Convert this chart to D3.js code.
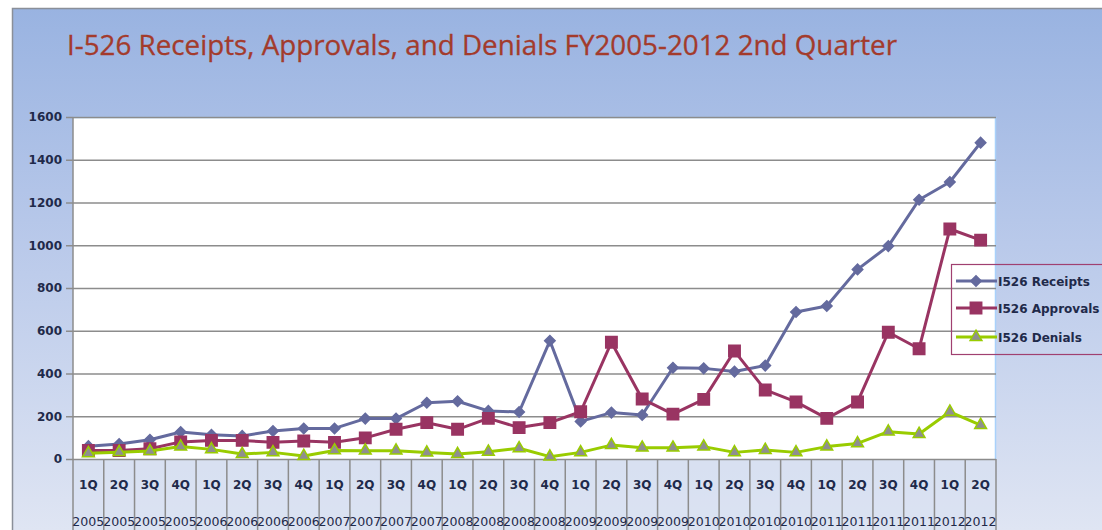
<!DOCTYPE html>
<html>
<head>
<meta charset="utf-8">
<script src="https://cdn.jsdelivr.net/npm/d3@7"></script>
<style>
  body { margin: 0; background: #fff; }
  svg { display: block; font-family: "DejaVu Sans", sans-serif; }
</style>
</head>
<body>
<div id="chart"></div>
<script>
// quarters and fiscal years on the category axis
const quarters = ["1Q","2Q","3Q","4Q","1Q","2Q","3Q","4Q","1Q","2Q","3Q","4Q","1Q","2Q","3Q","4Q",
                  "1Q","2Q","3Q","4Q","1Q","2Q","3Q","4Q","1Q","2Q","3Q","4Q","1Q","2Q"];
const years = ["2005","2005","2005","2005","2006","2006","2006","2006","2007","2007","2007","2007",
               "2008","2008","2008","2008","2009","2009","2009","2009","2010","2010","2010","2010",
               "2011","2011","2011","2011","2012","2012"];

const receipts = [60, 70, 90, 126, 113, 108, 131, 143, 143, 189, 189, 263, 270, 225, 220, 553,
                  176, 217, 206, 427, 424, 409, 437, 688, 716, 887, 996, 1213, 1296, 1480];
const approvals = [40, 40, 48, 80, 87, 87, 78, 84, 78, 99, 139, 170, 139, 190, 147, 170,
                   221, 546, 281, 210, 279, 505, 323, 267, 190, 267, 593, 516, 1076, 1024];
const denials = [27, 32, 37, 58, 45, 23, 31, 14, 40, 39, 39, 30, 23, 34, 50, 11,
                 31, 65, 53, 53, 58, 31, 42, 31, 58, 73, 128, 117, 221, 159];

const yTicks = [0, 200, 400, 600, 800, 1000, 1200, 1400, 1600];
const seriesNames = ["I526 Receipts", "I526 Approvals", "I526 Denials"];

const W = 1102, H = 530;
const plot = { left: 73, right: 996, top: 117, bottom: 459 };

const svg = d3.select("#chart").append("svg")
    .attr("width", W)
    .attr("height", H);

// background gradient
const defs = svg.append("defs");
const grad = defs.append("linearGradient")
    .attr("id", "bg")
    .attr("x1", 0).attr("y1", 0).attr("x2", 0).attr("y2", 1);
grad.append("stop").attr("offset", "0%").attr("stop-color", "#99b3e1");
grad.append("stop").attr("offset", "45%").attr("stop-color", "#b9c9ea");
grad.append("stop").attr("offset", "100%").attr("stop-color", "#dfe5f3");

svg.append("rect")
    .attr("x", 12).attr("y", 8)
    .attr("width", W - 12).attr("height", H - 8)
    .attr("fill", "url(#bg)");
svg.append("path")
    .attr("d", `M12.5,${H} V8.5 H${W}`)
    .attr("fill", "none")
    .attr("stroke", "#8a8f99")
    .attr("stroke-width", 1.5);

// title
svg.append("text")
    .attr("x", 67)
    .attr("y", 55)
    .attr("font-family", "'Open Sans', sans-serif")
    .attr("font-size", 27)
    .attr("fill", "#a33b2c")
    .attr("stroke", "#a33b2c")
    .attr("stroke-width", 0.3)
    .attr("textLength", 830)
    .attr("lengthAdjust", "spacingAndGlyphs")
    .text("I-526 Receipts, Approvals, and Denials FY2005-2012 2nd Quarter");

const x = d3.scaleBand()
    .domain(d3.range(quarters.length))
    .range([plot.left, plot.right]);

const y = d3.scaleLinear()
    .domain([0, 1600])
    .range([plot.bottom, plot.top]);

// plot area
svg.append("rect")
    .attr("x", plot.left).attr("y", plot.top)
    .attr("width", plot.right - plot.left)
    .attr("height", plot.bottom - plot.top)
    .attr("fill", "#fff");
svg.append("path")
    .attr("d", `M${plot.left},${plot.top + 0.5} H${plot.right - 0.5} V${plot.bottom}`)
    .attr("fill", "none")
    .attr("stroke", "#a9d1fb")
    .attr("stroke-width", 1.5);

// category table under the plot
svg.append("rect")
    .attr("x", plot.left).attr("y", plot.bottom)
    .attr("width", plot.right - plot.left)
    .attr("height", H - plot.bottom)
    .attr("fill", "#d9e1f2")
    .attr("opacity", 0.6);

svg.append("g")
    .selectAll("line")
    .data(d3.range(quarters.length + 1))
    .join("line")
    .attr("x1", i => i < quarters.length ? x(i) : x.range()[1])
    .attr("x2", i => i < quarters.length ? x(i) : x.range()[1])
    .attr("y1", plot.bottom)
    .attr("y2", H)
    .attr("stroke", "#8c8c8c")
    .attr("stroke-width", 1.5);

svg.append("g")
    .selectAll("text")
    .data(quarters)
    .join("text")
    .attr("x", (d, i) => x(i) + x.bandwidth() / 2)
    .attr("y", 489)
    .attr("text-anchor", "middle")
    .attr("font-size", 12)
    .attr("font-weight", "bold")
    .attr("fill", "#1f2a4a")
    .text(d => d);

svg.append("g")
    .selectAll("text")
    .data(years)
    .join("text")
    .attr("x", (d, i) => x(i) + x.bandwidth() / 2)
    .attr("y", 526)
    .attr("text-anchor", "middle")
    .attr("font-size", 12.5)
    .attr("fill", "#1f2a4a")
    .attr("textLength", 32)
    .attr("lengthAdjust", "spacingAndGlyphs")
    .text(d => d);

// y axis with gridlines
const yAxis = svg.append("g")
    .attr("transform", `translate(${plot.left},0)`)
    .call(d3.axisLeft(y).tickValues(yTicks).tickSize(-(plot.right - plot.left)).tickPadding(11).tickFormat(d3.format("d")));
yAxis.select(".domain").remove();
yAxis.selectAll(".tick line")
    .attr("x1", -7)
    .attr("stroke", "#8c8c8c")
    .attr("stroke-width", 1.5);
yAxis.selectAll(".tick text")
    .attr("font-size", 12)
    .attr("font-weight", "bold")
    .attr("font-family", "'DejaVu Sans', sans-serif")
    .attr("fill", "#1f2a4a");

svg.append("line")
    .attr("x1", plot.left).attr("x2", plot.left)
    .attr("y1", plot.top).attr("y2", plot.bottom)
    .attr("stroke", "#8c8c8c")
    .attr("stroke-width", 1.5);

// series
const cx = i => x(i) + x.bandwidth() / 2;
const line = d3.line().x((d, i) => cx(i)).y(d => y(d));

const series = [
    { values: receipts, color: "#646a9e", marker: d3.symbolSquare, size: 55, rotate: 45, fill: "#646a9e", stroke: "#646a9e" },
    { values: approvals, color: "#993462", marker: d3.symbolSquare, size: 130, rotate: 0, fill: "#993462", stroke: "#993462" },
    { values: denials, color: "#99cc00", marker: d3.symbolTriangle, size: 60, rotate: 0, fill: "#8f8f8f", stroke: "#99cc00" }
];

series.forEach(s => {
    svg.append("path")
        .datum(s.values)
        .attr("fill", "none")
        .attr("stroke", s.color)
        .attr("stroke-width", 3)
        .attr("stroke-linejoin", "round")
        .attr("d", line);
    svg.append("g")
        .selectAll("path")
        .data(s.values)
        .join("path")
        .attr("transform", (d, i) => `translate(${cx(i)},${y(d)}) rotate(${s.rotate})`)
        .attr("d", d3.symbol().type(s.marker).size(s.size))
        .attr("fill", s.fill)
        .attr("stroke", s.stroke)
        .attr("stroke-width", 1.5);
});

// legend
const legend = svg.append("g");
legend.append("rect")
    .attr("x", 951.5).attr("y", 264.5)
    .attr("width", 160).attr("height", 90)
    .attr("fill", "none")
    .attr("stroke", "#a04070")
    .attr("stroke-width", 1.2);

const legendY = [281, 308, 337];
series.forEach((s, i) => {
    legend.append("line")
        .attr("x1", 956).attr("x2", 997)
        .attr("y1", legendY[i]).attr("y2", legendY[i])
        .attr("stroke", s.color)
        .attr("stroke-width", 3);
    legend.append("path")
        .attr("transform", `translate(976,${legendY[i]}) rotate(${s.rotate})`)
        .attr("d", d3.symbol().type(s.marker).size(s.size))
        .attr("fill", s.fill)
        .attr("stroke", s.stroke)
        .attr("stroke-width", 1.5);
    legend.append("text")
        .attr("x", 998)
        .attr("y", legendY[i] + 4.5)
        .attr("font-size", 12)
        .attr("font-weight", "bold")
        .attr("fill", "#1f2a4a")
        .text(seriesNames[i]);
});
</script>
</body>
</html>
